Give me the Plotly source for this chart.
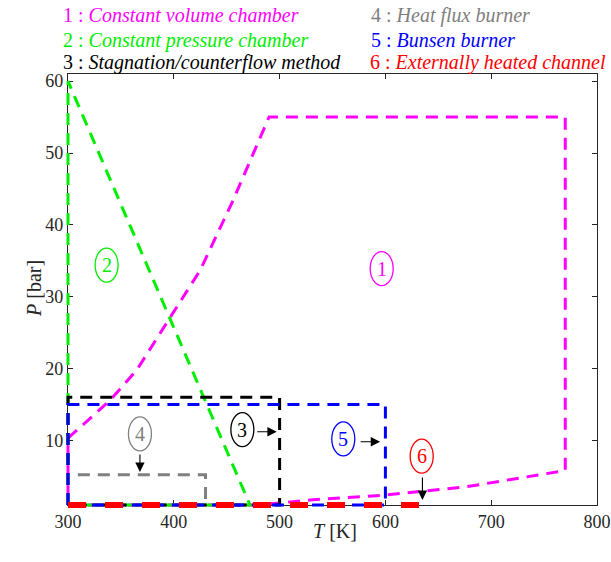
import plotly.graph_objects as go

# ---- data ----
T1 = [300, 340, 365, 398, 425, 456, 490, 770, 770, 677, 601, 529, 480, 300, 300]
P1 = [10.3, 15.6, 19.8, 27.4, 33.7, 43.4, 55, 55, 5.8, 3.55, 2.4, 1.7, 1.0, 1.0, 10.3]
T2 = [300, 300, 472, 300]
P2 = [1, 60, 1, 1]
T3 = [300, 300, 500, 500, 300]
P3 = [1, 16, 16, 1, 1]
T4 = [300, 300, 430, 430, 300]
P4 = [1, 5.2, 5.2, 1, 1]
T5 = [300, 300, 600, 600, 300]
P5 = [1, 15, 15, 1, 1]
T6 = [300, 640]
P6 = [1, 1]

labels = ["1", "2", "3", "4", "5", "6"]
label_T = [596.5, 336.5, 464.8, 368, 560.2, 634.3]
label_P = [33.9, 34.4, 11.5, 10.9, 10.2, 7.8]
colors = ["#ff00ff", "#00ee00", "#000000", "#808080", "#0000ff", "#ff0000"]

legend_texts = [
    "1 : <i>Constant volume chamber</i>",
    "2 : <i>Constant pressure chamber</i>",
    "3 : <i>Stagnation/counterflow method</i>",
    "4 : <i>Heat flux burner</i>",
    "5 : <i>Bunsen burner</i>",
    "6 : <i>Externally heated channel</i>",
]

# arrows: head (T, P), offset of tail in px
arrow_T = [497.3, 368, 595, 635]
arrow_P = [11.2, 5.6, 9.8, 1.7]
arrow_ax = [-21, 0, -21, 0]
arrow_ay = [0, -19, 0, -24]

X_RANGE = [300, 800]
Y_RANGE = [1, 61]

# ---- layout geometry (pixels) ----
W, H = 611, 562
PL, PR, PT, PB = 68, 597, 74, 505      # visible axes box
PAD = 5                                 # extra room so edge lines are not clipped
ML, MR, MT, MB = PL - PAD, W - PR - PAD, PT - PAD, H - PB - PAD
AW, AH = W - ML - MR, H - MT - MB
kx = (PR - PL) / (X_RANGE[1] - X_RANGE[0])
ky = (PB - PT) / (Y_RANGE[1] - Y_RANGE[0])
dom_x = [PAD / AW, 1 - PAD / AW]
dom_y = [PAD / AH, 1 - PAD / AH]
x2_range = [X_RANGE[0] - PAD / kx, X_RANGE[1] + PAD / kx]
y2_range = [Y_RANGE[0] - PAD / ky, Y_RANGE[1] + PAD / ky]


def paper_x(px):
    return (px - ML) / AW


def paper_y(py):
    return (H - MB - py) / AH


fig = go.Figure()
series = [(T1, P1), (T2, P2), (T3, P3), (T4, P4), (T5, P5)]
for (tx, py), c in zip(series, colors[:5]):
    fig.add_trace(go.Scatter(x=tx, y=py, xaxis="x2", yaxis="y2", mode="lines",
                             line=dict(color=c, width=3, dash="12px,8px"),
                             showlegend=False, hoverinfo="skip"))
fig.add_trace(go.Scatter(x=T6, y=P6, xaxis="x2", yaxis="y2", mode="lines",
                         line=dict(color=colors[5], width=6, dash="18px,19px"),
                         showlegend=False, hoverinfo="skip"))

SERIF = "Liberation Serif"
annotations = []
shapes = []
for lab, tx, py, c in zip(labels, label_T, label_P, colors):
    annotations.append(dict(x=tx, y=py, xref="x", yref="y", text=lab, showarrow=False,
                            font=dict(family=SERIF, size=20, color=c)))
    shapes.append(dict(type="circle", xref="x", yref="y", xsizemode="pixel", ysizemode="pixel",
                       xanchor=tx, yanchor=py, x0=-11.5, x1=11.5, y0=-17, y1=17,
                       line=dict(color=c, width=1.3)))
for hx, hy, ax, ay in zip(arrow_T, arrow_P, arrow_ax, arrow_ay):
    annotations.append(dict(x=hx, y=hy, xref="x", yref="y", ax=ax, ay=ay, text="",
                            showarrow=True, arrowhead=2, arrowsize=1.7, arrowwidth=1.1,
                            arrowcolor="black"))

# legend text block
pos = [(61, 15), (61, 40), (61, 62), (369, 15), (369, 40), (368, 62)]
for (px, py), txt, c in zip(pos, legend_texts, colors):
    annotations.append(dict(x=paper_x(px), y=paper_y(py), xref="paper", yref="paper",
                            xanchor="left", yanchor="middle", text=txt, showarrow=False,
                            font=dict(family=SERIF, size=20, color=c)))

# axis titles
annotations.append(dict(x=paper_x(335), y=paper_y(544), xref="paper", yref="paper",
                        text="<i>T</i> [K]", showarrow=False,
                        font=dict(family=SERIF, size=20, color="#262626")))
annotations.append(dict(x=paper_x(21), y=paper_y(289), xref="paper", yref="paper",
                        text="<i>P</i> [bar]", showarrow=False, textangle=-90,
                        font=dict(family=SERIF, size=20, color="#262626")))

axis_common = dict(showgrid=False, zeroline=False, showline=True, linecolor="#262626",
                   linewidth=1.3, mirror="allticks", ticks="inside", ticklen=5,
                   tickcolor="#262626", automargin=False,
                   tickfont=dict(family=SERIF, size=18, color="#262626"))
hidden = dict(visible=False, showgrid=False, zeroline=False, fixedrange=True)

fig.update_layout(
    width=W, height=H,
    margin=dict(l=ML, r=MR, t=MT, b=MB),
    plot_bgcolor="rgba(0,0,0,0)", paper_bgcolor="white",
    xaxis=dict(domain=dom_x, range=X_RANGE, tickvals=[300, 400, 500, 600, 700, 800],
               anchor="y", **axis_common),
    yaxis=dict(domain=dom_y, range=Y_RANGE, tickvals=[10, 20, 30, 40, 50, 60],
               anchor="x", **axis_common),
    xaxis2=dict(domain=[0, 1], range=x2_range, anchor="y2", **hidden),
    yaxis2=dict(domain=[0, 1], range=y2_range, anchor="x2", **hidden),
    annotations=annotations, shapes=shapes,
)

fig.write_html("out.html", config={"displayModeBar": False},
               post_script="document.body.style.margin='0px';document.body.style.padding='0px';")
